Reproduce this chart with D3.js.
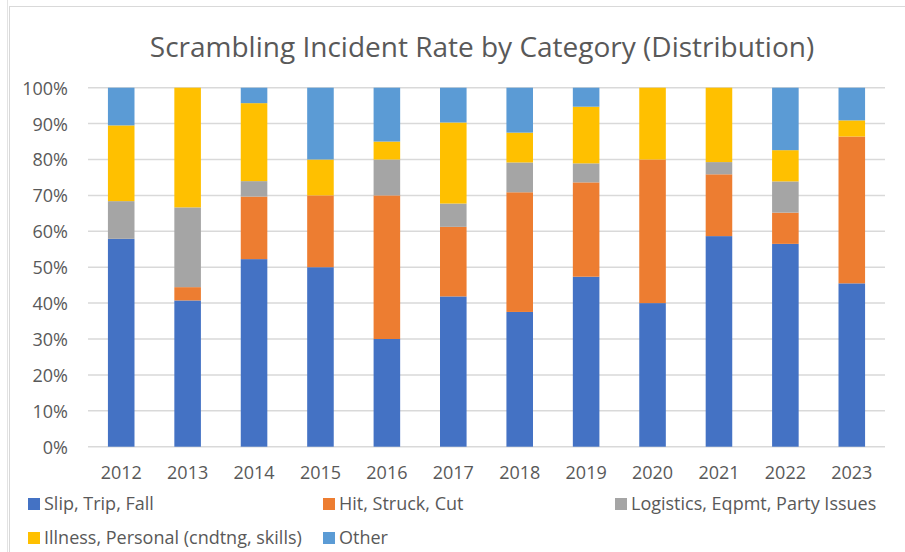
<!DOCTYPE html>
<html lang="en">
	<head>
		<meta charset="utf-8">
		<title>Scrambling Incident Rate by Category (Distribution)</title>
		<script type="text/javascript" src="https://d3js.org/d3.v7.min.js"></script>
		<style type="text/css">
			body { margin: 0; background: #fff; }
			text { font-family: "Open Sans", sans-serif; fill: #595959; }
		</style>
	</head>
	<body>
		<script type="text/javascript">

			// Years on the x axis
			var years = ["2012", "2013", "2014", "2015", "2016", "2017", "2018", "2019", "2020", "2021", "2022", "2023"];

			// Share of incidents per category (percent)
			var slipTripFall = [57.9, 40.7, 52.2, 50.0, 30.0, 41.9, 37.5, 47.4, 40.0, 58.6, 56.5, 45.5];
			var hitStruckCut = [0.0, 3.7, 17.4, 20.0, 40.0, 19.4, 33.3, 26.3, 40.0, 17.2, 8.7, 40.9];
			var logistics    = [10.5, 22.2, 4.3, 0.0, 10.0, 6.5, 8.3, 5.3, 0.0, 3.4, 8.7, 0.0];
			var illness      = [21.1, 33.3, 21.7, 10.0, 5.0, 22.6, 8.3, 15.8, 20.0, 20.7, 8.7, 4.5];
			var other        = [10.5, 0.0, 4.3, 20.0, 15.0, 9.7, 12.5, 5.3, 0.0, 0.0, 17.4, 9.1];

			var seriesNames = ["Slip, Trip, Fall", "Hit, Struck, Cut", "Logistics, Eqpmt, Party Issues",
				"Illness, Personal (cndtng, skills)", "Other"];
			var yTicks = [0, 10, 20, 30, 40, 50, 60, 70, 80, 90, 100];

			var colors = ["#4472C4", "#ED7D31", "#A5A5A5", "#FFC000", "#5B9BD5"];

			//Width and height
			var w = 905;
			var h = 552;

			// build rows for the stack layout
			var keys = ["slip", "hit", "log", "ill", "other"];
			var dataset = years.map(function(y, i) {
				return { year: y, slip: slipTripFall[i], hit: hitStruckCut[i], log: logistics[i],
					ill: illness[i], other: other[i] };
			});

			var stack = d3.stack()
				.keys(keys)
				.offset(d3.stackOffsetExpand);

			var series = stack(dataset);

			var xScale = d3.scaleBand()
				.domain(years)
				.range([88, 885])
				.paddingInner(0.6)
				.paddingOuter(0.3);

			var yScale = d3.scaleLinear()
				.domain([0, 100])
				.range([446.7, 87.7]);

			var svg = d3.select("body")
				.append("svg")
				.attr("width", w)
				.attr("height", h);

			// chart area frame
			svg.append("line")
				.attr("x1", 7.5).attr("x2", 7.5)
				.attr("y1", 0).attr("y2", h)
				.attr("stroke", "#e3e3e3");
			svg.append("rect")
				.attr("x", 9.5).attr("y", 6.5)
				.attr("width", w + 20).attr("height", h + 20)
				.attr("fill", "none")
				.attr("stroke", "#d9d9d9");

			// title
			svg.append("text")
				.attr("x", 482)
				.attr("y", 57)
				.attr("text-anchor", "middle")
				.style("font-size", "28px")
				.text("Scrambling Incident Rate by Category (Distribution)");

			// gridlines
			svg.append("g")
				.selectAll("line")
				.data(yTicks)
				.enter()
				.append("line")
				.attr("x1", 88)
				.attr("x2", 885)
				.attr("y1", function(d) { return yScale(d); })
				.attr("y2", function(d) { return yScale(d); })
				.attr("stroke", "#d9d9d9")
				.attr("stroke-width", 1.5);

			// y axis
			var yAxis = d3.axisLeft(yScale)
				.tickValues(yTicks)
				.tickSize(0)
				.tickPadding(0)
				.tickFormat(function(d) { return d + "%"; });

			var yg = svg.append("g")
				.attr("transform", "translate(68,0)")
				.call(yAxis);
			yg.select(".domain").remove();
			yg.selectAll("text")
				.attr("dy", "0.36em")
				.style("font-size", "18px")
				.style("font-family", "'Open Sans', sans-serif")
				.attr("fill", "#595959");

			// bars
			var groups = svg.selectAll("g.series")
				.data(series)
				.enter()
				.append("g")
				.attr("class", "series")
				.style("fill", function(d, i) { return colors[i]; });

			groups.selectAll("rect")
				.data(function(d) { return d; })
				.enter()
				.append("rect")
				.attr("x", function(d) { return xScale(d.data.year); })
				.attr("y", function(d) { return yScale(d[1] * 100); })
				.attr("height", function(d) { return yScale(d[0] * 100) - yScale(d[1] * 100); })
				.attr("width", xScale.bandwidth());

			// x axis labels
			var xAxis = d3.axisBottom(xScale)
				.tickSize(0)
				.tickPadding(0);

			var xg = svg.append("g")
				.attr("transform", "translate(0,479)")
				.call(xAxis);
			xg.select(".domain").remove();
			xg.selectAll("text")
				.attr("dy", 0)
				.attr("y", 0)
				.style("font-size", "18px")
				.style("font-family", "'Open Sans', sans-serif")
				.attr("fill", "#595959");

			// legend
			var legendPos = [[28, 504], [323, 504], [615, 504], [28, 538], [323, 538]];

			var legend = svg.selectAll("g.legend")
				.data(seriesNames)
				.enter()
				.append("g")
				.attr("class", "legend")
				.attr("transform", function(d, i) {
					return "translate(" + legendPos[i][0] + "," + legendPos[i][1] + ")";
				});

			legend.append("rect")
				.attr("x", 0)
				.attr("y", -6)
				.attr("width", 12)
				.attr("height", 12)
				.style("fill", function(d, i) { return colors[i]; });

			legend.append("text")
				.attr("x", 16)
				.attr("y", 0)
				.attr("dy", "0.36em")
				.style("font-size", "18px")
				.text(function(d) { return d; });

		</script>
	</body>
</html>
